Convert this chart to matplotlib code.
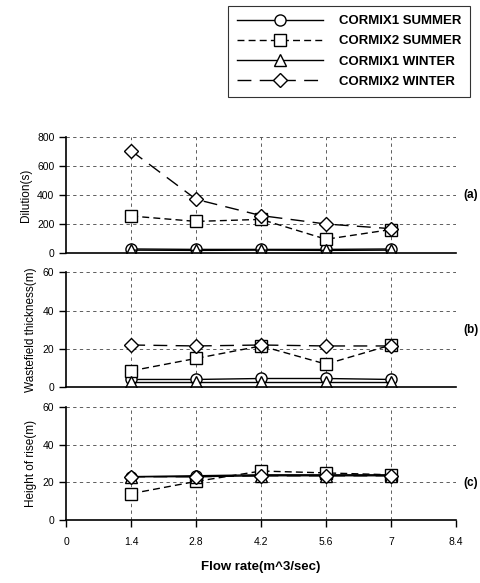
import numpy as np
import matplotlib.pyplot as plt

plt.rcParams['font.family'] = ['Liberation Sans', 'DejaVu Sans']

# =========================
# data
# =========================
flow = [1.4, 2.8, 4.2, 5.6, 7.0]
xticks = [0, 1.4, 2.8, 4.2, 5.6, 7.0, 8.4]
xticklabels = ['0', '1.4', '2.8', '4.2', '5.6', '7', '8.4']

series_names = ['CORMIX1 SUMMER', 'CORMIX2 SUMMER', 'CORMIX1 WINTER', 'CORMIX2 WINTER']

dilution_c1_summer = [28, 25, 25, 25, 28]
dilution_c2_summer = [255, 218, 232, 95, 162]
dilution_c1_winter = [20, 18, 20, 18, 20]
dilution_c2_winter = [705, 370, 258, 200, 168]

waste_c1_summer = [4, 4, 4.5, 4.5, 4]
waste_c2_summer = [8.5, 15, 21.5, 12, 22]
waste_c1_winter = [2.5, 2.5, 2.5, 2.5, 2.5]
waste_c2_winter = [22, 21.5, 22, 21.5, 21.5]

rise_c1_summer = [23, 23.5, 24, 24, 24]
rise_c2_summer = [14, 20.5, 26, 25, 24]
rise_c1_winter = [23, 23, 23.5, 23.5, 23.5]
rise_c2_winter = [23, 23, 23.5, 23.5, 23.5]

# =========================
# styles
# =========================
styles = [
    dict(marker='o', linestyle='-'),
    dict(marker='s', linestyle=(0, (5, 3))),
    dict(marker='^', linestyle='-'),
    dict(marker='D', linestyle=(0, (10, 6)), markersize=7),
]

def draw(ax, data, ymax, ystep, ylabel, tag, tag_y, bottom=False):
    for vals, st in zip(data, styles):
        kw = dict(color='black', lw=1.0, markerfacecolor='white',
                  markeredgecolor='black', markersize=8, markeredgewidth=1.0)
        kw.update(st)
        ax.plot(flow, vals, **kw)
    ax.set_xlim(0, 8.4)
    ax.set_ylim(0, ymax)
    ax.set_yticks(np.arange(0, ymax + 1, ystep))
    for y in np.arange(ystep, ymax + 1, ystep):
        ax.axhline(y, color='#444444', lw=0.6, ls=(0, (4, 4)), zorder=0)
    for x in xticks[1:]:
        ax.axvline(x, color='#444444', lw=0.6, ls=(0, (4, 4)), zorder=0)
    ax.spines['top'].set_visible(False)
    ax.spines['right'].set_visible(False)
    ax.spines['left'].set_linewidth(1.2)
    ax.spines['bottom'].set_linewidth(1.2)
    ax.set_ylabel(ylabel, fontsize=8.5, labelpad=4)
    ax.tick_params(axis='y', labelsize=7.5, length=5, width=1)
    ax.set_xticks(xticks)
    if bottom:
        ax.set_xticklabels(xticklabels)
        ax.tick_params(axis='x', labelsize=7.5, length=5, width=1, pad=7)
    else:
        ax.tick_params(axis='x', length=0, labelbottom=False)
    ax.text(1.02, tag_y, tag, transform=ax.transAxes, fontsize=8.5,
            fontweight='bold', va='center', ha='left')

fig = plt.figure(figsize=(4.8, 5.83), dpi=100)
left, width = 0.138, 0.812
ax1 = fig.add_axes([left, 0.566, width, 0.199])
ax2 = fig.add_axes([left, 0.336, width, 0.197])
ax3 = fig.add_axes([left, 0.108, width, 0.194])

draw(ax1, [dilution_c1_summer, dilution_c2_summer, dilution_c1_winter, dilution_c2_winter],
     800, 200, 'Dilution(s)', '(a)', 0.5)
draw(ax2, [waste_c1_summer, waste_c2_summer, waste_c1_winter, waste_c2_winter],
     60, 20, 'Wastefield thickness(m)', '(b)', 0.5)
draw(ax3, [rise_c1_summer, rise_c2_summer, rise_c1_winter, rise_c2_winter],
     60, 20, 'Height of rise(m)', '(c)', 0.33, bottom=True)

ax3.set_xlabel('Flow rate(m^3/sec)', fontsize=9.5, fontweight='bold', labelpad=10)

handles = ax1.get_lines()[:4]
leg = fig.legend(handles, series_names, loc='upper right',
                 bbox_to_anchor=(0.98, 0.99), borderaxespad=0, handlelength=6.5,
                 frameon=True, fancybox=False, edgecolor='black',
                 prop=dict(size=9.5, weight='bold'), labelspacing=0.6,
                 borderpad=0.7, handletextpad=1.2)
leg.get_frame().set_linewidth(0.8)

fig.savefig('out.png', dpi=100)
